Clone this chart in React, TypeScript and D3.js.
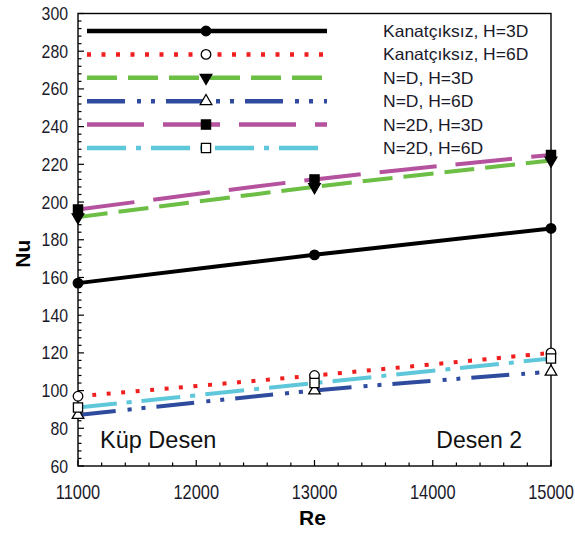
import React, { useEffect, useRef } from "react";
import * as d3 from "d3";

const WIDTH = 575;
const HEIGHT = 533;
const margin = { top: 13.5, right: 24, bottom: 67, left: 78 };

// Values
const re_values = [11000, 13000, 15000];
const nu_kanatciksiz_3d = [157, 172, 186];
const nu_kanatciksiz_6d = [97, 108, 120];
const nu_nd_3d = [192, 208, 222];
const nu_nd_6d = [87, 100, 110];
const nu_n2d_3d = [196, 212, 225];
const nu_n2d_6d = [91, 104, 117];

const series_labels = [
  "Kanatçıksız, H=3D",
  "Kanatçıksız, H=6D",
  "N=D, H=3D",
  "N=D, H=6D",
  "N=2D, H=3D",
  "N=2D, H=6D",
];

const x_ticks = [11000, 12000, 13000, 14000, 15000];
const y_ticks = [60, 80, 100, 120, 140, 160, 180, 200, 220, 240, 260, 280, 300];

const series = [
  { label: series_labels[0], values: nu_kanatciksiz_3d, color: "#000000", dash: null, width: 4.5, marker: "circle", open: false },
  { label: series_labels[1], values: nu_kanatciksiz_6d, color: "#f01e1e", dash: "4,10.5", width: 4.5, marker: "circle", open: true },
  { label: series_labels[2], values: nu_nd_3d, color: "#6cbe45", dash: "30,11", width: 4.5, marker: "triangle-down", open: false },
  { label: series_labels[3], values: nu_nd_6d, color: "#2f4b9e", dash: "38,12,4,10,4,11", width: 4.5, marker: "triangle", open: true },
  { label: series_labels[4], values: nu_n2d_3d, color: "#b4529e", dash: "57,19", width: 4.5, marker: "square", open: false },
  { label: series_labels[5], values: nu_n2d_6d, color: "#5ec8da", dash: "39,10,5,10", width: 4.5, marker: "square", open: true },
];

function markerPath(kind) {
  if (kind === "circle") return d3.symbol().type(d3.symbolCircle).size(72)();
  if (kind === "square") return d3.symbol().type(d3.symbolSquare).size(84)();
  return d3.symbol().type(d3.symbolTriangle).size(58)();
}

function App() {
  const svgRef = useRef(null);

  useEffect(() => {
    document.body.style.margin = "0";
    const svgEl = d3.select(svgRef.current);
    svgEl.selectAll("*").remove();

    const width = WIDTH - margin.left - margin.right;
    const height = HEIGHT - margin.top - margin.bottom;

    const x = d3.scaleLinear().domain([11000, 15000]).range([0, width]);
    const y = d3.scaleLinear().domain([60, 300]).range([height, 0]);

    const svg = svgEl.append("g")
      .attr("transform", "translate(" + margin.left + "," + margin.top + ")");

    // Frame
    svg.append("rect")
      .attr("x", 0).attr("y", 0)
      .attr("width", width).attr("height", height)
      .attr("fill", "none")
      .attr("stroke", "#000")
      .attr("stroke-width", 1.4);

    // Minor + major ticks, pointing inward
    const y_minor = d3.range(60, 300.1, 4);
    svg.selectAll(".ytick")
      .data(y_minor)
      .enter().append("line")
      .attr("x1", 0)
      .attr("x2", function(d) { return d % 20 === 0 ? 6 : 3.5; })
      .attr("y1", function(d) { return y(d); })
      .attr("y2", function(d) { return y(d); })
      .attr("stroke", "#000")
      .attr("stroke-width", 1.2);

    const x_minor = d3.range(11000, 15000.1, 200);
    svg.selectAll(".xtick")
      .data(x_minor)
      .enter().append("line")
      .attr("x1", function(d) { return x(d); })
      .attr("x2", function(d) { return x(d); })
      .attr("y1", height)
      .attr("y2", function(d) { return d % 1000 === 0 ? height - 6 : height - 3.5; })
      .attr("stroke", "#000")
      .attr("stroke-width", 1.2);

    // Tick labels
    svg.selectAll(".ylabel")
      .data(y_ticks)
      .enter().append("text")
      .attr("transform", function(d) { return "translate(-10," + (y(d) + 6.5) + ") scale(0.88,1)"; })
      .attr("text-anchor", "end")
      .attr("font-family", "Liberation Sans, Arial, sans-serif")
      .attr("font-size", 18)
      .attr("fill", "#1a1a2a")
      .text(function(d) { return d; });

    svg.selectAll(".xlabel")
      .data(x_ticks)
      .enter().append("text")
      .attr("transform", function(d) { return "translate(" + x(d) + "," + (height + 33) + ") scale(0.82,1)"; })
      .attr("text-anchor", "middle")
      .attr("font-family", "Liberation Sans, Arial, sans-serif")
      .attr("font-size", 20)
      .attr("fill", "#1a1a2a")
      .text(function(d) { return d; });

    // Axis titles
    svg.append("text")
      .attr("transform", "translate(-48," + (height / 2 + 14) + ") rotate(-90)")
      .attr("text-anchor", "middle")
      .attr("font-family", "Liberation Sans, Arial, sans-serif")
      .attr("font-weight", "bold")
      .attr("font-size", 21)
      .text("Nu");

    svg.append("text")
      .attr("x", width / 2 - 2)
      .attr("y", height + 59)
      .attr("text-anchor", "middle")
      .attr("font-family", "Liberation Sans, Arial, sans-serif")
      .attr("font-weight", "bold")
      .attr("font-size", 21)
      .text("Re");

    // Annotations
    svg.append("text")
      .attr("x", 22)
      .attr("y", height - 18)
      .attr("font-family", "Liberation Sans, Arial, sans-serif")
      .attr("font-size", 23.5)
      .attr("fill", "#111")
      .text("Küp Desen");

    svg.append("text")
      .attr("x", width - 29)
      .attr("y", height - 18)
      .attr("text-anchor", "end")
      .attr("font-family", "Liberation Sans, Arial, sans-serif")
      .attr("font-size", 23)
      .attr("fill", "#111")
      .text("Desen 2");

    // Lines
    const line = d3.line()
      .x(function(d, i) { return x(re_values[i]); })
      .y(function(d) { return y(d); })
      .curve(d3.curveCatmullRom);

    series.forEach(function(s) {
      svg.append("path")
        .datum(s.values)
        .attr("d", line)
        .attr("fill", "none")
        .attr("stroke", s.color)
        .attr("stroke-width", s.width - 0.5)
        .attr("stroke-dasharray", s.dash)
        .attr("stroke-linecap", "butt");
    });

    // Markers
    series.forEach(function(s) {
      svg.selectAll(null)
        .data(s.values)
        .enter().append("path")
        .attr("d", markerPath(s.marker))
        .attr("transform", function(d, i) {
          return "translate(" + x(re_values[i]) + "," + y(d) + ")" + (s.marker === "triangle-down" ? " rotate(180)" : "");
        })
        .attr("fill", s.open ? "#fff" : "#000")
        .attr("stroke", "#000")
        .attr("stroke-width", 1.3);
    });

    // Legend
    const legend_y = d3.scaleLinear().domain([0, 5]).range([31, 148]);
    const legend = svgEl.append("g");
    series.forEach(function(s, i) {
      const ly = legend_y(i);
      legend.append("line")
        .attr("x1", 87).attr("x2", 327)
        .attr("y1", ly).attr("y2", ly)
        .attr("stroke", s.color)
        .attr("stroke-width", s.width)
        .attr("stroke-dasharray", s.dash);
      legend.append("path")
        .attr("d", markerPath(s.marker))
        .attr("transform", "translate(206," + ly + ")" + (s.marker === "triangle-down" ? " rotate(180)" : ""))
        .attr("fill", s.open ? "#fff" : "#000")
        .attr("stroke", "#000")
        .attr("stroke-width", 1.3);
      legend.append("text")
        .attr("transform", "translate(383," + (ly + 6) + ") scale(1.06,1)")
        .attr("font-family", "Liberation Sans, Arial, sans-serif")
        .attr("font-size", 16.5)
        .attr("fill", "#1a1a2a")
        .text(s.label);
    });
  }, []);

  return (
    <svg
      width={WIDTH}
      height={HEIGHT}
      style={{ display: "block", background: "#fff" }}
      ref={svgRef}
    ></svg>
  );
}

export default App;
